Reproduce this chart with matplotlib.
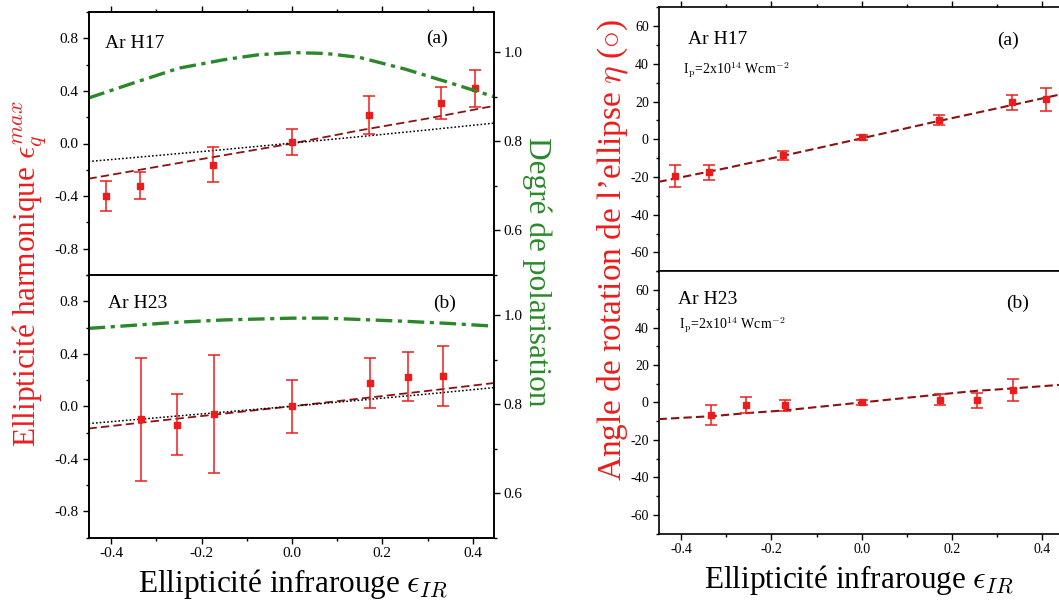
import matplotlib
matplotlib.use('Agg')
import numpy as np
import matplotlib.pyplot as plt
from matplotlib.ticker import MultipleLocator

plt.rcParams['font.family'] = ['Liberation Serif', 'DejaVu Serif']
plt.rcParams['mathtext.fontset'] = 'cm'
plt.rcParams['lines.scale_dashes'] = False
plt.rcParams['axes.unicode_minus'] = False

# --- donnees ---
# H17 : ellipticite harmonique
x17 = [-0.411, -0.336, -0.175, 0.0, 0.17, 0.33, 0.406]
eps17 = [-0.40, -0.32, -0.16, 0.01, 0.215, 0.31, 0.42]
eps17_err = [0.113, 0.10, 0.133, 0.10, 0.145, 0.122, 0.14]

# H23 : ellipticite harmonique
x23 = [-0.333, -0.254, -0.172, 0.0, 0.172, 0.256, 0.335]
eps23 = [-0.10, -0.14, -0.06, 0.0, 0.178, 0.226, 0.231]
eps23_err = [0.468, 0.23, 0.45, 0.20, 0.19, 0.185, 0.226]

# courbes theoriques (ellipticite)
xm = [-0.45, -0.3, -0.15, 0.0, 0.15, 0.3, 0.447]
eps17_tdse = [-0.268, -0.178, -0.089, 0.0, 0.1, 0.19, 0.286]
eps17_sfa = [-0.137, -0.092, -0.046, 0.003, 0.052, 0.103, 0.155]
eps23_tdse = [-0.17, -0.112, -0.056, 0.0, 0.058, 0.117, 0.177]
eps23_sfa = [-0.132, -0.088, -0.044, 0.0, 0.046, 0.093, 0.142]

# degre de polarisation
xp = [-0.45, -0.35, -0.25, -0.15, -0.075, 0.0, 0.075, 0.15, 0.25, 0.35, 0.447]
pol17 = [0.897, 0.931, 0.964, 0.983, 0.994, 0.999, 0.997, 0.988, 0.962, 0.931, 0.900]
pol23 = [0.970, 0.977, 0.984, 0.989, 0.991, 0.993, 0.993, 0.990, 0.986, 0.981, 0.975]

# angle de rotation
xe17 = [-0.413, -0.338, -0.175, 0.0, 0.17, 0.333, 0.408]
eta17 = [-19.5, -17.4, -8.6, 1.0, 10.2, 19.6, 21.2]
eta17_err = [6.0, 4.0, 2.5, 1.2, 2.7, 4.0, 6.0]
xe23 = [-0.333, -0.256, -0.171, 0.0, 0.173, 0.256, 0.335]
eta23 = [-6.8, -1.4, -1.6, 0.0, 1.4, 1.1, 6.6]
eta23_err = [5.5, 4.3, 2.9, 1.1, 3.0, 4.2, 6.0]

xeta = [-0.45, -0.3, -0.15, 0.0, 0.15, 0.3, 0.45]
eta17_fit = [-22.6, -15.3, -7.5, 0.5, 8.6, 16.4, 24.3]
xeta23 = [-0.45, -0.33, -0.255, -0.174, 0.0, 0.173, 0.254, 0.335, 0.45]
eta23_fit = [-8.9, -7.3, -5.7, -4.3, 0.0, 4.3, 6.2, 7.5, 9.6]

RED = '#ec1c1c'
DKRED = '#8b1212'
GREEN = '#2a882a'
W, H = 1059, 601

fig = plt.figure(figsize=(W / 100, H / 100), dpi=100)


def axes_px(x0, y0, x1, y1):
    return fig.add_axes([x0 / W, 1 - y1 / H, (x1 - x0) / W, (y1 - y0) / H])


def style(ax, bottom_labels, ticksize):
    for s in ax.spines.values():
        s.set_linewidth(1.2)
    ax.tick_params(which='both', direction='out', labelsize=ticksize, width=1.0,
                   top=False, right=False, pad=3)
    ax.tick_params(which='major', length=4)
    ax.tick_params(which='minor', length=2.5)
    if not bottom_labels:
        ax.tick_params(labelbottom=False)
        ax.tick_params(which='both', top=True)


def points(ax, x, y, err, ms, cap):
    ax.errorbar(x, y, yerr=err, fmt='s', color=RED, ms=ms, capsize=cap,
                elinewidth=1.1, capthick=1.1, zorder=5)


def ellipticite(ax, x, y, err, tdse, sfa, pol, bottom):
    ax.plot(xm, tdse, color=DKRED, lw=1.3, dashes=(6, 3), zorder=3)
    ax.plot(xm, sfa, color='black', lw=1.1, dashes=(1.2, 1.5), zorder=3)
    points(ax, x, y, err, 5, 4.2)
    ax.set_xlim(-0.45, 0.447)
    ax.set_ylim(-1, 1)
    ax.set_yticks([-0.8, -0.4, 0.0, 0.4, 0.8])
    ax.yaxis.set_minor_locator(MultipleLocator(0.2))
    ax.set_xticks([-0.4, -0.2, 0.0, 0.2, 0.4])
    ax.xaxis.set_minor_locator(MultipleLocator(0.1))
    ax.yaxis.set_major_formatter(plt.FuncFormatter(lambda v, p: '%.1f' % v))
    ax.xaxis.set_major_formatter(plt.FuncFormatter(lambda v, p: '%.1f' % v))
    style(ax, bottom, 11)
    axr = ax.twinx()
    axr.plot(xp, pol, color=GREEN, lw=2.4, dashes=(12, 4, 3, 4))
    axr.set_ylim(0.5, 1.09)
    axr.set_yticks([0.6, 0.8, 1.0])
    axr.yaxis.set_minor_locator(MultipleLocator(0.1))
    axr.yaxis.set_major_formatter(plt.FuncFormatter(lambda v, p: '%.1f' % v))
    axr.tick_params(which='both', direction='out', labelsize=11, width=1.0, pad=3)
    axr.tick_params(which='major', length=4)
    axr.tick_params(which='minor', length=2.5)
    for s in axr.spines.values():
        s.set_linewidth(1.2)
    return axr


def angle(ax, x, y, err, xf, fit, bottom):
    ax.plot(xf, fit, color=DKRED, lw=1.5, dashes=(6, 3), zorder=3)
    points(ax, x, y, err, 5, 4.2)
    ax.set_xlim(-0.45, 0.45)
    ax.set_ylim(-70, 70)
    ax.set_yticks([-60, -40, -20, 0, 20, 40, 60])
    ax.yaxis.set_minor_locator(MultipleLocator(10))
    ax.set_xticks([-0.4, -0.2, 0.0, 0.2, 0.4])
    ax.xaxis.set_minor_locator(MultipleLocator(0.1))
    ax.xaxis.set_major_formatter(plt.FuncFormatter(lambda v, p: '%.1f' % v))
    style(ax, bottom, 10)


# panneau gauche
ax1 = axes_px(88.5, 12, 494, 275)
ellipticite(ax1, x17, eps17, eps17_err, eps17_tdse, eps17_sfa, pol17, False)
ax1.text(0.041, 0.882, 'Ar H17', transform=ax1.transAxes, fontsize=14, va='center')
ax1.text(0.86, 0.901, '(a)', transform=ax1.transAxes, fontsize=14, va='center', ha='center')

ax2 = axes_px(88.5, 275, 494, 537.5)
ellipticite(ax2, x23, eps23, eps23_err, eps23_tdse, eps23_sfa, pol23, True)
ax2.text(0.048, 0.893, 'Ar H23', transform=ax2.transAxes, fontsize=14, va='center')
ax2.text(0.877, 0.893, '(b)', transform=ax2.transAxes, fontsize=14, va='center', ha='center')

# panneau droit
ax3 = axes_px(658.5, 7.2, 1065, 271.3)
angle(ax3, xe17, eta17, eta17_err, xeta, eta17_fit, False)
ax3.text(0.073, 0.876, 'Ar H17', transform=ax3.transAxes, fontsize=14, va='center')
ax3.text(0.06, 0.762, 'I$_\\mathrm{p}$=2x10$^{14}$ Wcm$^{-2}$', transform=ax3.transAxes,
         fontsize=10, va='center')
ax3.text(0.859, 0.876, '(a)', transform=ax3.transAxes, fontsize=14, va='center', ha='center')

ax4 = axes_px(658.5, 271.3, 1065, 533.6)
angle(ax4, xe23, eta23, eta23_err, xeta23, eta23_fit, True)
ax4.text(0.048, 0.891, 'Ar H23', transform=ax4.transAxes, fontsize=14, va='center')
ax4.text(0.05, 0.795, 'I$_\\mathrm{p}$=2x10$^{14}$ Wcm$^{-2}$', transform=ax4.transAxes,
         fontsize=10, va='center')
ax4.text(0.884, 0.879, '(b)', transform=ax4.transAxes, fontsize=14, va='center', ha='center')

# titres des axes
fig.text(30 / W, 1 - 273 / H, 'Ellipticité harmonique $\\epsilon_q^{max}$', color=RED,
         fontsize=22.5, rotation=90, ha='center', va='center')
fig.text(537 / W, 1 - 271.5 / H, 'Degré de polarisation', color=GREEN,
         fontsize=22.5, rotation=270, ha='center', va='center')
fig.text(293 / W, 1 - 592 / H, 'Ellipticité infrarouge $\\epsilon_{IR}$',
         fontsize=22.5, ha='center', va='baseline')
fig.text(613 / W, 1 - 250 / H, 'Angle de rotation de l\u2019ellipse $\\eta$ ($\\circ$)',
         color=RED, fontsize=24, rotation=90, ha='center', va='center')
fig.text(859 / W, 1 - 588 / H, 'Ellipticité infrarouge $\\epsilon_{IR}$',
         fontsize=22.5, ha='center', va='baseline')

fig.savefig('out.png', dpi=100)
plt.close(fig)
